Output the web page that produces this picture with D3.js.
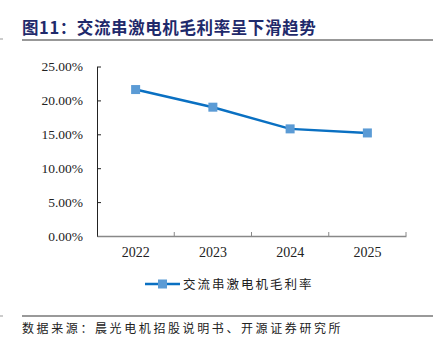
<!DOCTYPE html>
<html>
<head>
<meta charset="utf-8">
<script src="https://cdn.jsdelivr.net/npm/d3@7/dist/d3.min.js"></script>
<style>
  html, body { margin: 0; padding: 0; background: #fff; }
  svg { display: block; }
</style>
</head>
<body>
<svg id="chart" width="437" height="344"></svg>
<script>
// Gross margin of AC series motors, by year
const years = ["2022", "2023", "2024", "2025"];
const margin = [21.6, 19.0, 15.8, 15.2];
const yTicks = [0, 5, 10, 15, 20, 25];
const titleText = "图11：交流串激电机毛利率呈下滑趋势";
const seriesName = "交流串激电机毛利率";
const sourceText = "数据来源：晨光电机招股说明书、开源证券研究所";

const svg = d3.select("#chart");
const serif = "'Liberation Serif','Times New Roman',serif";
const cjk = "'Noto Sans CJK SC','Noto Sans',sans-serif";

// Title and rule beneath it
svg.append("text")
  .attr("x", 22).attr("y", 34)
  .attr("font-family", cjk).attr("font-weight", "bold")
  .attr("font-size", 16.5).attr("letter-spacing", 0.6)
  .attr("fill", "#1f2a6b")
  .text(titleText);
svg.append("line")
  .attr("x1", 22).attr("x2", 433).attr("y1", 40).attr("y2", 40)
  .attr("stroke", "#333").attr("stroke-width", 1.2);
svg.append("line")
  .attr("x1", 0).attr("x2", 3).attr("y1", 39).attr("y2", 39)
  .attr("stroke", "#999").attr("stroke-width", 1);

// Plot area
const x0 = 97, x1 = 406, yTop = 66.5, yBot = 236;
const x = d3.scaleBand().domain(years).range([x0, x1]);
const y = d3.scaleLinear().domain([0, 25]).range([yBot, yTop]);

// Y axis
const yAxis = svg.append("g")
  .attr("transform", `translate(${x0},0)`)
  .call(d3.axisLeft(y).tickValues(yTicks).tickSizeInner(-4).tickSizeOuter(0)
    .tickPadding(14).tickFormat(d => d.toFixed(2) + "%"));
yAxis.select(".domain").attr("stroke", "#222");
yAxis.selectAll(".tick line").attr("stroke", "#222");
yAxis.selectAll("text")
  .attr("font-family", serif).attr("font-size", 13.5).attr("fill", "#222");

// X axis
const xAxis = svg.append("g")
  .attr("transform", `translate(0,${yBot})`)
  .call(d3.axisBottom(x).tickSize(0).tickPadding(11));
xAxis.select(".domain").attr("stroke", "#888").attr("stroke-width", 1.5);
xAxis.selectAll("text")
  .attr("font-family", serif).attr("font-size", 14).attr("fill", "#222");
// Category boundary ticks pointing up into the plot
const bounds = years.slice(1).map(d => x(d)).concat([x1]);
xAxis.selectAll(".bound").data(bounds).enter().append("line")
  .attr("class", "bound")
  .attr("x1", d => d).attr("x2", d => d)
  .attr("y1", 0).attr("y2", -4)
  .attr("stroke", "#888").attr("stroke-width", 1);

// Series line and markers
const cx = d => x(d) + x.bandwidth() / 2;
const pts = years.map((d, i) => [cx(d), y(margin[i])]);
svg.append("path")
  .attr("d", d3.line()(pts))
  .attr("fill", "none").attr("stroke", "#0a70c2").attr("stroke-width", 2.5);
svg.selectAll(".mk").data(pts).enter().append("rect")
  .attr("class", "mk")
  .attr("x", d => d[0] - 4.5).attr("y", d => d[1] - 4.5)
  .attr("width", 9).attr("height", 9)
  .attr("fill", "#5b9bd5");

// Legend
const ly = 284;
svg.append("line")
  .attr("x1", 145).attr("x2", 180).attr("y1", ly).attr("y2", ly)
  .attr("stroke", "#0a70c2").attr("stroke-width", 2.5);
svg.append("rect")
  .attr("x", 158).attr("y", ly - 4.5).attr("width", 9).attr("height", 9)
  .attr("fill", "#5b9bd5");
svg.append("text")
  .attr("x", 183).attr("y", ly + 4.5)
  .attr("font-family", cjk).attr("font-size", 12.5).attr("letter-spacing", 2)
  .attr("fill", "#222")
  .text(seriesName);

// Source rule and note
svg.append("line")
  .attr("x1", 22).attr("x2", 433).attr("y1", 316).attr("y2", 316)
  .attr("stroke", "#999").attr("stroke-width", 2);
svg.append("line")
  .attr("x1", 0).attr("x2", 3).attr("y1", 316).attr("y2", 316)
  .attr("stroke", "#999").attr("stroke-width", 1);
svg.append("text")
  .attr("x", 22).attr("y", 333)
  .attr("font-family", cjk).attr("font-size", 12).attr("letter-spacing", 2.6)
  .attr("fill", "#222")
  .text(sourceText);
</script>
</body>
</html>
